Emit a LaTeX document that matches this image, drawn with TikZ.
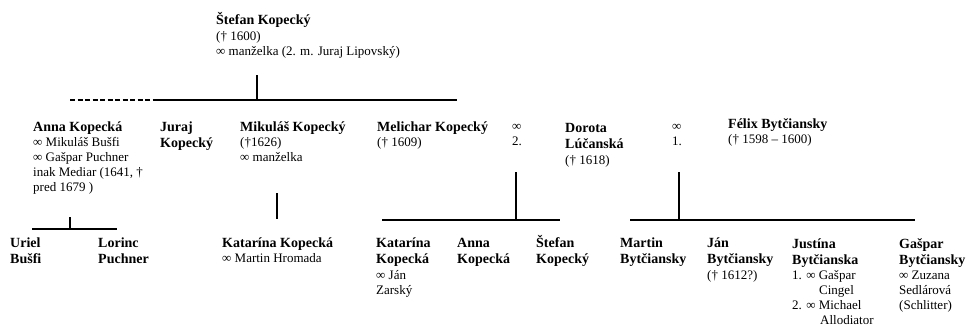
\documentclass[tikz,border=0pt]{standalone}
\usepackage{fontspec}
\setmainfont{Liberation Serif}
\usepackage{tikz}
\newcommand{\nm}[1]{{\fontsize{14}{16}\selectfont\bfseries #1}}
\newcommand{\fst}{\rule{0pt}{14pt}}

\begin{document}
\begin{tikzpicture}[x=1pt,y=-1pt]
    \tikzstyle{person}=[anchor=north west, yshift=14pt, inner sep=0pt, align=left, font=\fontsize{13}{15}\selectfont]
    \tikzstyle{bar}=[draw=black, line width=1.8pt]
    \useasboundingbox (0,0) rectangle (966,330);

    % first generation
    \node[person] (stefan)   at (216,24)  {\fst\nm{Štefan Kopecký}\\[1pt](† 1600)\\∞ manželka (2. m. Juraj Lipovský)};

    % second generation
    \node[person] (anna)     at (33,131)  {\fst\nm{Anna Kopecká}\\∞ Mikuláš Bušfi\\∞ Gašpar Puchner\\inak Mediar (1641, †\\pred 1679 )};
    \node[person] (juraj)    at (160,131) {\fst\nm{Juraj}\\[1.5pt]\nm{Kopecký}};
    \node[person] (mikulas)  at (240,131) {\fst\nm{Mikuláš Kopecký}\\(†1626)\\∞ manželka};
    \node[person] (melichar) at (377,131) {\fst\nm{Melichar Kopecký}\\(† 1609)};
    \node[person] (mar2)     at (512,130) {\fst∞\\2.};
    \node[person] (dorota)   at (565,132) {\fst\nm{Dorota}\\[1.5pt]\nm{Lúčanská}\\[1pt](† 1618)};
    \node[person] (mar1)     at (672,130) {\fst∞\\1.};
    \node[person] (felix)    at (728,128) {\fst\nm{Félix Bytčiansky}\\(† 1598 – 1600)};

    % third generation
    \node[person] (uriel)     at (10,247)  {\fst\nm{Uriel}\\[1.5pt]\nm{Bušfi}};
    \node[person] (lorinc)    at (98,247)  {\fst\nm{Lorinc}\\[1.5pt]\nm{Puchner}};
    \node[person] (katarina)  at (222,247) {\fst\nm{Katarína Kopecká}\\∞ Martin Hromada};
    \node[person] (katarina2) at (376,247) {\fst\nm{Katarína}\\[1.5pt]\nm{Kopecká}\\[1pt]∞ Ján\\Zarský};
    \node[person] (anna2)     at (457,247) {\fst\nm{Anna}\\[1.5pt]\nm{Kopecká}};
    \node[person] (stefan2)   at (536,247) {\fst\nm{Štefan}\\[1.5pt]\nm{Kopecký}};
    \node[person] (martin)    at (620,247) {\fst\nm{Martin}\\[1.5pt]\nm{Bytčiansky}};
    \node[person] (jan)       at (707,247) {\fst\nm{Ján}\\[1.5pt]\nm{Bytčiansky}\\[1pt](† 1612?)};
    \node[person] (justina)   at (792,248) {\fst\nm{Justína}\\[1.5pt]\nm{Bytčianska}\\1. ∞ Gašpar\\\hspace*{27pt}Cingel\\2. ∞ Michael\\\hspace*{28pt}Allodiator};
    \node[person] (gaspar)    at (899,248) {\fst\nm{Gašpar}\\[1.5pt]\nm{Bytčiansky}\\∞ Zuzana\\Sedlárová\\(Schlitter)};

    \coordinate (kop-top)  at (257,75);
    \coordinate (kop-mid)  at (257,100);
    \coordinate (kop-l)    at (70,100);
    \coordinate (kop-d)    at (158,100);
    \coordinate (kop-r)    at (457,100);
    \coordinate (anna-top) at (70,217);
    \coordinate (anna-mid) at (70,229);
    \coordinate (anna-l)   at (32,229);
    \coordinate (anna-r)   at (117,229);
    \coordinate (mik-top)  at (277,193);
    \coordinate (mik-bot)  at (277,219);
    \coordinate (m2-top)   at (516,172);
    \coordinate (m2-mid)   at (516,220);
    \coordinate (m2-l)     at (382,220);
    \coordinate (m2-r)     at (560,220);
    \coordinate (m1-top)   at (679,172);
    \coordinate (m1-mid)   at (679,220);
    \coordinate (m1-l)     at (630,220);
    \coordinate (m1-r)     at (915,220);

    \path
     (kop-top)  edge[bar] (kop-mid)
     (kop-l)    edge[bar, dash pattern=on 5pt off 2.5pt] (kop-d)
     (kop-d)    edge[bar] (kop-r)
     (anna-top) edge[bar] (anna-mid)
     (anna-l)   edge[bar] (anna-r)
     (mik-top)  edge[bar] (mik-bot)
     (m2-top)   edge[bar] (m2-mid)
     (m2-l)     edge[bar] (m2-r)
     (m1-top)   edge[bar] (m1-mid)
     (m1-l)     edge[bar] (m1-r)
     ;
\end{tikzpicture}
\end{document}
